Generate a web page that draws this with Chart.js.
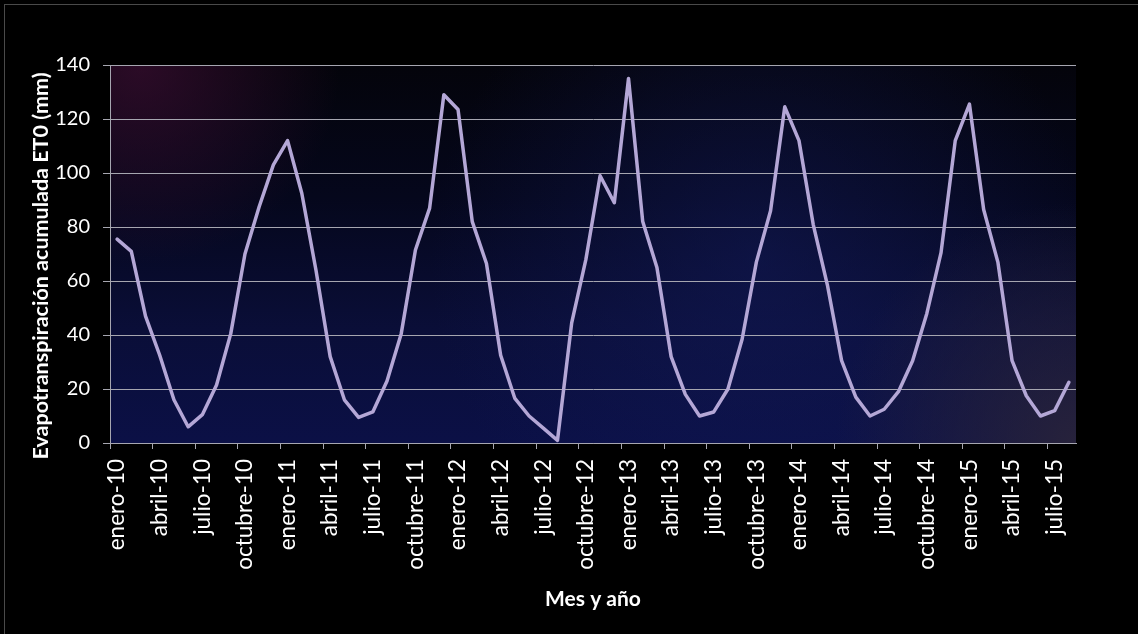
<!DOCTYPE html>
<html lang="es">
<head>
<meta charset="utf-8">
<title>Evapotranspiración acumulada ET0</title>
<script src="https://cdn.jsdelivr.net/npm/chart.js@4"></script>
<style>
  html, body { margin: 0; padding: 0; background: #000; }
  #wrap { position: relative; width: 1138px; height: 634px; }
</style>
</head>
<body>
<div id="wrap"><canvas id="myChart" width="1138" height="634"></canvas></div>
<script>
// Meses y años de la serie (enero-10 a agosto-15)
const meses = ['enero', 'febrero', 'marzo', 'abril', 'mayo', 'junio', 'julio',
  'agosto', 'septiembre', 'octubre', 'noviembre', 'diciembre'];
const anios = ['10', '11', '12', '13', '14', '15'];
const ultimoMes = 8; // la serie termina en agosto-15

// ET0 acumulada mensual (mm)
const et0 = [
  75.5, 71, 47, 32.5, 16, 6, 10.5, 21.5, 40.5, 70, 87.5, 103,
  112, 92.5, 64, 32, 16, 9.5, 11.5, 23, 40.5, 71.5, 87, 129,
  123.5, 82, 66.5, 32.5, 16.5, 10, 5.5, 1, 44.5, 68, 99, 89,
  135, 82, 65, 32, 18, 10, 11.5, 20, 38.5, 67, 86, 124.5,
  112, 81, 58.5, 30.5, 17, 10, 12.5, 19, 30.5, 48, 70.5, 112,
  125.5, 86.5, 67, 30.5, 17.5, 10, 12, 22.5
];

const tituloY = 'Evapotranspiración acumulada ET0 (mm)';
const tituloX = 'Mes y año';

// Etiquetas del eje x
let etiquetas = [];
anios.forEach((a, k) => {
  let n = (k === anios.length - 1) ? ultimoMes : 12;
  for (let m = 0; m < n; m++) etiquetas.push(meses[m] + '-' + a);
});

const gris = '#a6a6b0';
const fuente = 'Lato, "Open Sans", sans-serif';

// Fondo del área de trazado, marco de la imagen y título del eje y
const fondo = {
  id: 'fondo',
  beforeDraw: (chart) => {
    const { ctx, chartArea: a } = chart;
    ctx.save();
    ctx.strokeStyle = '#4a4a4a';
    ctx.lineWidth = 1;
    ctx.strokeRect(4.5, 4.5, 1200, 700);

    let g = ctx.createLinearGradient(0, a.top, 0, a.bottom);
    g.addColorStop(0, '#04040b');
    g.addColorStop(0.35, '#05071c');
    g.addColorStop(0.7, '#0a0e38');
    g.addColorStop(1, '#0b1046');
    ctx.fillStyle = g;
    ctx.fillRect(a.left, a.top, a.right - a.left, a.bottom - a.top);

    // brillo violeta arriba a la izquierda
    let r1 = ctx.createRadialGradient(a.left + 30, a.top, 0, a.left + 30, a.top, 200);
    r1.addColorStop(0, 'rgba(60, 14, 50, 0.7)');
    r1.addColorStop(1, 'rgba(60, 14, 50, 0)');
    ctx.fillStyle = r1;
    ctx.fillRect(a.left, a.top, a.right - a.left, a.bottom - a.top);

    // zona azul algo más clara a la derecha
    let r2 = ctx.createRadialGradient(760, 260, 0, 760, 260, 330);
    r2.addColorStop(0, 'rgba(20, 28, 95, 0.5)');
    r2.addColorStop(1, 'rgba(20, 28, 95, 0)');
    ctx.fillStyle = r2;
    ctx.fillRect(a.left, a.top, a.right - a.left, a.bottom - a.top);

    // tono gris violáceo abajo a la derecha
    let r3 = ctx.createRadialGradient(a.right, a.bottom, 0, a.right, a.bottom, 240);
    r3.addColorStop(0, 'rgba(42, 36, 58, 0.9)');
    r3.addColorStop(1, 'rgba(42, 36, 58, 0)');
    ctx.fillStyle = r3;
    ctx.fillRect(a.left, a.top, a.right - a.left, a.bottom - a.top);

    // título del eje y (Excel lo centra un poco más abajo)
    ctx.translate(41, 266);
    ctx.rotate(-Math.PI / 2);
    ctx.fillStyle = '#ffffff';
    ctx.font = 'bold 21.5px ' + fuente;
    ctx.textAlign = 'center';
    ctx.textBaseline = 'middle';
    ctx.fillText(tituloY, 0, 0);
    ctx.restore();
  }
};

let plot = () => {
  const ctx = document.getElementById('myChart');

  const dataset = {
    labels: etiquetas,
    datasets: [{
      label: 'ET0 acumulada',
      data: et0,
      fill: false,
      borderColor: '#b4a7d6',
      borderWidth: 3.5,
      borderJoinStyle: 'round',
      borderCapStyle: 'round',
      pointRadius: 0,
      tension: 0
    }]
  };

  const config = {
    type: 'line',
    data: dataset,
    plugins: [fondo],
    options: {
      responsive: false,
      animation: false,
      layout: { padding: { top: 65, right: 62, left: 0, bottom: 0 } },
      plugins: {
        legend: { display: false },
        tooltip: { enabled: false }
      },
      scales: {
        x: {
          type: 'category',
          offset: true,
          afterFit: (s) => { s.height = 191; },
          grid: {
            offset: true,
            drawOnChartArea: false,
            tickLength: 6,
            tickColor: (c) => (c.index % 3 === 0 ? gris : 'rgba(0,0,0,0)')
          },
          border: { color: gris, width: 1 },
          ticks: {
            autoSkip: false,
            maxRotation: 90,
            minRotation: 90,
            padding: 10,
            color: '#ffffff',
            font: { family: fuente, size: 22.5 },
            callback: (v, i) => (i % 3 === 0 ? etiquetas[i] : '')
          },
          title: {
            display: true,
            text: tituloX,
            color: '#ffffff',
            padding: { top: 22, bottom: 22 },
            font: { family: fuente, size: 21, weight: 'bold' }
          }
        },
        y: {
          min: 0,
          max: 140,
          afterFit: (s) => { s.width = 110; },
          grid: { color: gris, tickLength: 7, lineWidth: 1 },
          border: { color: gris, width: 1 },
          ticks: {
            stepSize: 20,
            padding: 13,
            color: '#ffffff',
            font: { family: fuente, size: 20 }
          }
        }
      }
    }
  };

  const chart = new Chart(ctx, config);
};

plot();
</script>
</body>
</html>
